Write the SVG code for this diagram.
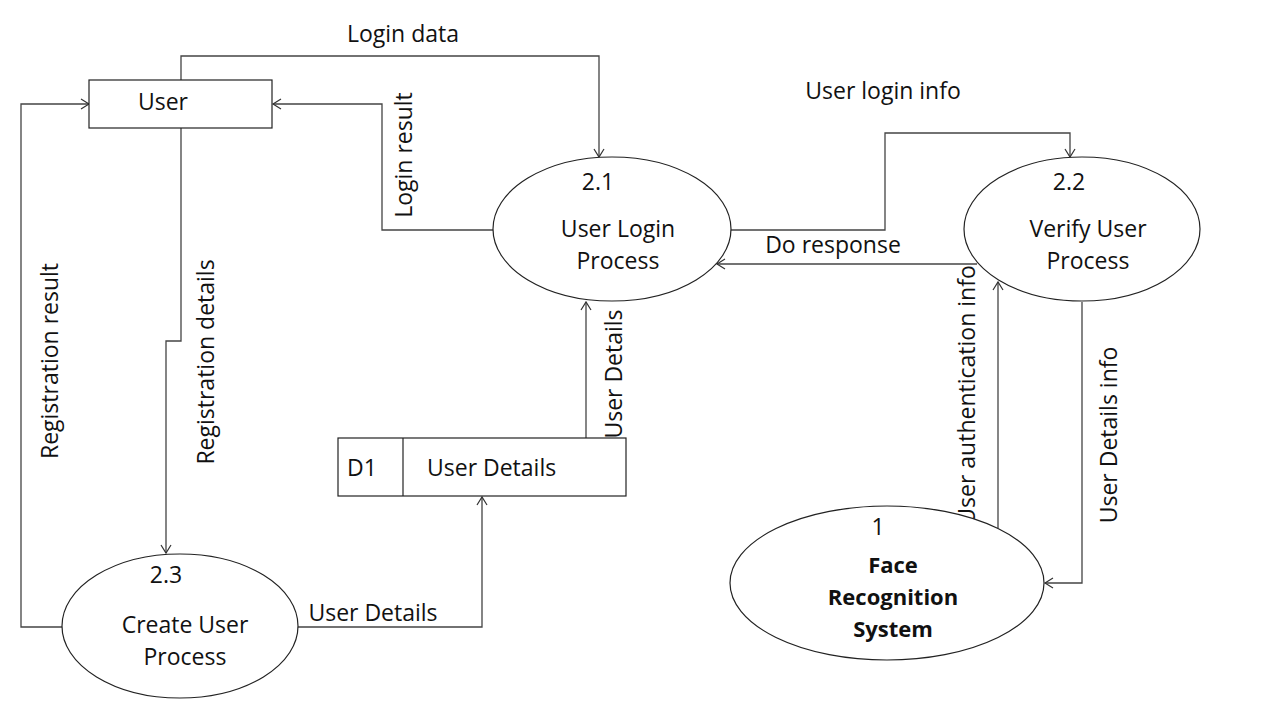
<svg xmlns="http://www.w3.org/2000/svg" width="1280" height="720" viewBox="0 0 1280 720">
<style>
  .shape{fill:#fff;stroke:#222;stroke-width:1.2}
  .flow{fill:none;stroke:#444;stroke-width:1.3}
  text{font-family:"Open Sans","Liberation Sans",sans-serif;font-size:23px;fill:#111}
  .c{text-anchor:middle}
  .b{font-weight:bold;font-size:22px}
</style>
<defs>
  <marker id="arr" viewBox="-10 -6 12 12" refX="0" refY="0" markerWidth="12" markerHeight="12" markerUnits="userSpaceOnUse" orient="auto">
    <path d="M-8,-5 L0,0 L-8,5" fill="none" stroke="#333" stroke-width="1.2"/>
  </marker>
</defs>
<rect width="1280" height="720" fill="#fff"/>

<g id="connectors">
  <path class="flow" d="M181,80 V56 H599 V157" marker-end="url(#arr)"/>
  <path class="flow" d="M493,230 H382 V104 H273" marker-end="url(#arr)"/>
  <path class="flow" d="M62,627 H21 V104 H89" marker-end="url(#arr)"/>
  <path class="flow" d="M181,128 V341 H166 V553" marker-end="url(#arr)"/>
  <path class="flow" d="M297,627 H482 V497" marker-end="url(#arr)"/>
  <path class="flow" d="M586,438 V302" marker-end="url(#arr)"/>
  <path class="flow" d="M730,230 H885 V133 H1070 V157" marker-end="url(#arr)"/>
  <path class="flow" d="M977,264 H717" marker-end="url(#arr)"/>
  <path class="flow" d="M998,528 V282" marker-end="url(#arr)"/>
  <path class="flow" d="M1082,302 V583 H1045" marker-end="url(#arr)"/>
  <text x="403" y="42" class="c">Login data</text>
  <text class="c" transform="translate(412,155) rotate(-90)">Login result</text>
  <text class="c" transform="translate(58,361) rotate(-90)">Registration result</text>
  <text class="c" transform="translate(214,362) rotate(-90)">Registration details</text>
  <text x="373" y="621" class="c">User Details</text>
  <text class="c" transform="translate(622,374) rotate(-90)">User Details</text>
  <text x="883" y="99" class="c">User login info</text>
  <text x="833" y="253" class="c">Do response</text>
  <text class="c" transform="translate(975,395) rotate(-90)">User authentication info</text>
  <text class="c" transform="translate(1117,435) rotate(-90)">User Details info</text>
</g>

<g id="user">
  <rect class="shape" x="89" y="80" width="183" height="48"/>
  <text x="163" y="110" class="c">User</text>
</g>

<g id="p21">
  <ellipse class="shape" cx="612" cy="229" rx="119" ry="72"/>
  <text x="598" y="190" class="c">2.1</text>
  <text x="618" y="237" class="c">User Login</text>
  <text x="618" y="269" class="c">Process</text>
</g>

<g id="p22">
  <ellipse class="shape" cx="1082" cy="229" rx="118" ry="72"/>
  <text x="1069" y="190" class="c">2.2</text>
  <text x="1088" y="237" class="c">Verify User</text>
  <text x="1088" y="269" class="c">Process</text>
</g>

<g id="p23">
  <ellipse class="shape" cx="180" cy="626" rx="118" ry="72"/>
  <text x="166" y="583" class="c">2.3</text>
  <text x="185" y="633" class="c">Create User</text>
  <text x="185" y="665" class="c">Process</text>
</g>

<g id="d1">
  <rect class="shape" x="338" y="438" width="288" height="58"/>
  <line class="shape" x1="403" y1="438" x2="403" y2="496"/>
  <text x="347" y="476">D1</text>
  <text x="427" y="476">User Details</text>
</g>

<g id="face">
  <ellipse class="shape" cx="887" cy="583" rx="157" ry="77"/>
  <text x="878" y="535" class="c">1</text>
  <text x="893" y="573" class="c b">Face</text>
  <text x="893" y="605" class="c b">Recognition</text>
  <text x="893" y="637" class="c b">System</text>
</g>
</svg>
